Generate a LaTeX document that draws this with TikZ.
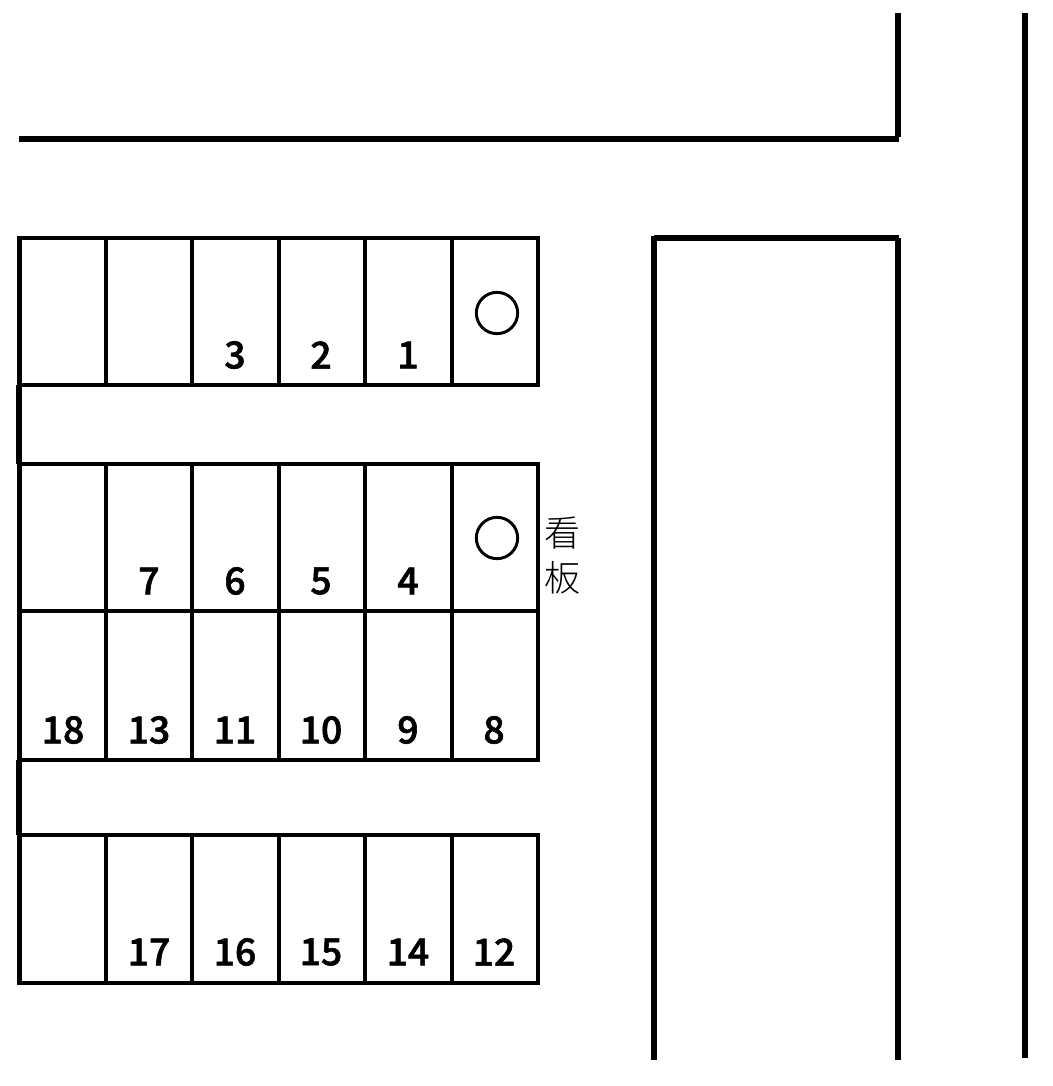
\documentclass[tikz,border=0pt]{standalone}
\usepackage{fontspec}
\setmainfont[RawFeature={embolden=1.6}]{Noto Sans CJK JP Medium}
\newfontfamily\kanban{Noto Sans CJK JP Light}
\usetikzlibrary{positioning}
\tikzset{
	stall/.style={line width=3.4pt},
	wall/.style={line width=4.4pt},
	num/.style={font=\fontsize{28}{28}\selectfont,inner sep=0pt},
	pin/.style={draw,circle,line width=2.2pt,minimum size=31pt,inner sep=0pt},
	sign/.style={inner sep=0pt,font=\kanban\fontsize{27}{27}\selectfont}
}
\begin{document}
\begin{tikzpicture}[x=0.75pt,y=-0.75pt]
	\useasboundingbox (0,0) rectangle (1053,1086);
	% road
	\draw[wall] (19,139)--(899,139);
	\draw[wall] (898,13)--(898,137);
	\draw[wall] (654,238)--(899,238);
	\draw[wall] (654,236)--(654,1060);
	\draw[wall] (898,238)--(898,1060);
	\draw[wall] (1025,13)--(1025,1058);
	% stalls
	\foreach \top/\bot in {238/385,464/611,611/760,835/983}{
		\draw[stall] (19.5,\top) rectangle (538,\bot);
		\foreach \x in {106,192,279,365,452}
			\draw[stall] (\x,\top)--(\x,\bot);
	}
	\draw[wall] (19,385)--(19,464);
	\draw[wall] (19,760)--(19,835);
	% numbers
	\foreach \x/\t in {235/3,321/2,408/1}
		\node[num] (n\t) at (\x,355) {\t};
	\foreach \x/\t in {149/7,235/6,321/5,408/4}
		\node[num] (n\t) at (\x,581) {\t};
	\foreach \x/\t in {63/18,149/13,235/11,321/10,408/9,494/8}
		\node[num] (n\t) at (\x,730) {\t};
	\foreach \x/\t in {149/17,235/16,321/15,408/14,494/12}
		\node[num] (n\t) at (\x,952) {\t};
	% circles
	\node[pin] (c1) at (497,313) {};
	\node[pin] (c2) at (497,538) {};
	% sign
	\node[sign] (kan) at (562,533) {看};
	\node[sign] (ban) at (562,578) {板};
\end{tikzpicture}
\end{document}
